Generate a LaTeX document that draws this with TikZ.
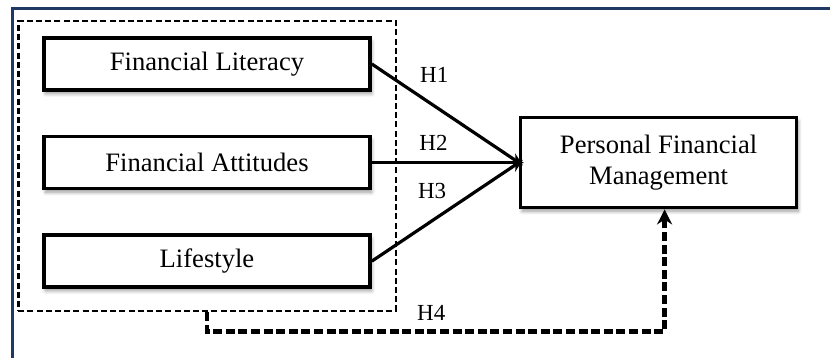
\documentclass[tikz,border=0pt]{standalone}
\usepackage{fontspec}
\setmainfont{Liberation Serif}
\usepackage{tikz}
\usetikzlibrary{arrows.meta,positioning,fit,calc,shadows.blur}
\definecolor{framenavy}{RGB}{31,56,100}

\begin{document}
\begin{tikzpicture}[every node/.style={font=\fontsize{13.3}{15.5}\selectfont}, node distance=21.5pt,
  var/.style={draw, line width=1.8pt, fill=white, minimum width=163pt, minimum height=26pt,
    blur shadow={shadow xshift=.8pt, shadow yshift=-1.8pt, shadow blur steps=6, shadow opacity=40}},
  hyp/.style={font=\fontsize{11.5}{13}\selectfont, inner sep=1pt},
  arr/.style={-{Stealth[length=6.5pt,width=5.5pt]}, line width=1.6pt, shorten >=-2.5pt}]
  \useasboundingbox (0,0) rectangle (415pt,-179pt);
  % frame round the figure
  \draw[framenavy, line width=1.4pt] (6.4pt,-179pt) -- (6.4pt,-4.2pt) -- (415pt,-4.2pt);

  \node[var] (lit) at (103.5pt,-32pt) {Financial Literacy};
  \node[var, below=of lit] (att) {Financial Attitudes};
  \node[var, below=of att] (life) {Lifestyle};
  \node[var, right=73.5pt of att, minimum width=138pt, minimum height=45pt, align=center] (pfm) {Personal Financial\\Management};

  % dashed group of the three variables
  \node[draw, dash pattern=on 3pt off 1.6pt, line width=1.3pt, fit=(lit)(att)(life), inner xsep=12pt, inner ysep=9.25pt, yshift=-1.75pt] (grp) {};

  \draw[arr] (lit.east) -- node[hyp, pos=.25, above right=1.5pt and 4pt] (h1) {H1} (pfm.west);
  \draw[arr] (att.east) -- node[hyp, pos=.42, above=4.5pt] (h2) {H2} (pfm.west);
  \draw[arr] (life.east) -- node[hyp, pos=.53, above left=3.25pt and 0pt] (h3) {H3} (pfm.west);
  \draw[-{Stealth[length=7.5pt,width=7.5pt]}, line width=2.2pt, dash pattern=on 4.5pt off 1.8pt]
    (grp.south) -- ++(0,-9.5pt) -| node[hyp, pos=.245, above=3.5pt] (h4) {H4} ([xshift=3pt]pfm.south);
\end{tikzpicture}
\end{document}
